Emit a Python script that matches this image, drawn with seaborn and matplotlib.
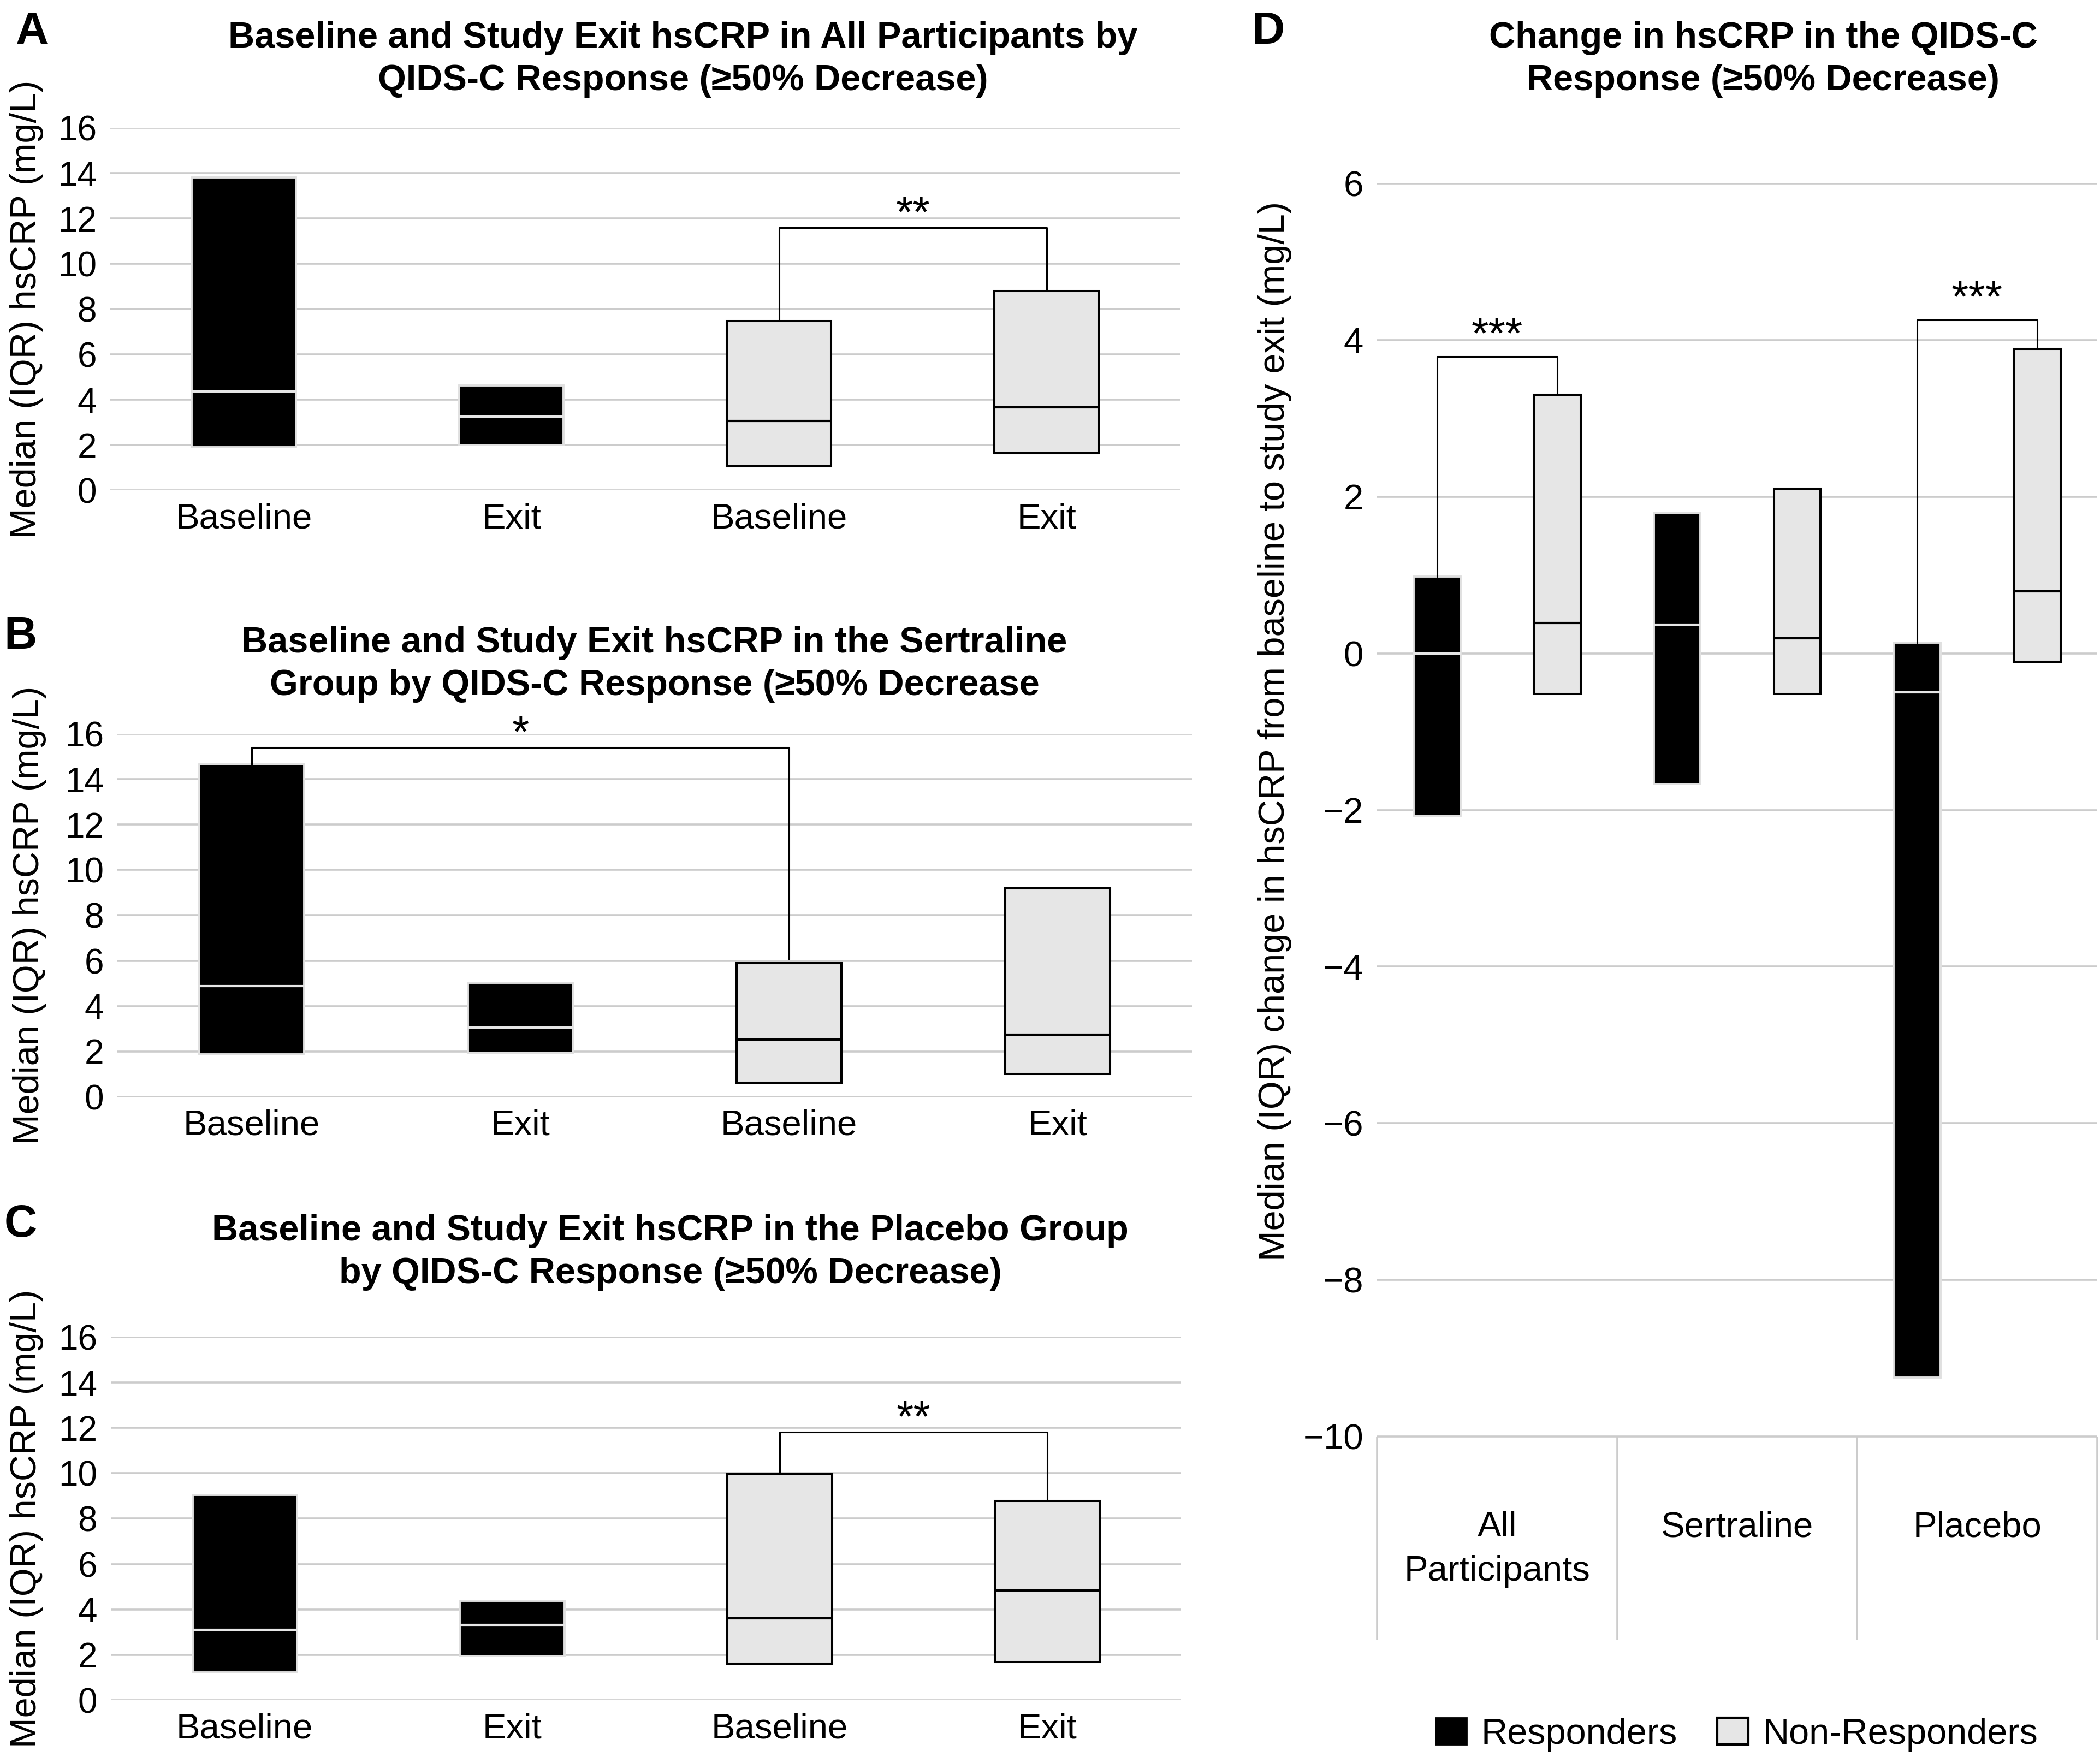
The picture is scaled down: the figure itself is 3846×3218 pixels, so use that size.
import numpy as np
import pandas as pd
import matplotlib
matplotlib.use("Agg")
import matplotlib.pyplot as plt
import seaborn as sns
from matplotlib.patches import Patch

# ---- data ----
# panels A-C, bar order: responders baseline/exit, non-responders baseline/exit
time_labels = ["Baseline", "Exit", "Baseline", "Exit"]
bar_keys = ["R_base", "R_exit", "NR_base", "NR_exit"]
bar_group = ["Responders", "Responders", "Non-Responders", "Non-Responders"]

all_q1 = [1.90, 2.00, 1.05, 1.65]
all_med = [4.37, 3.25, 3.05, 3.67]
all_q3 = [13.80, 4.63, 7.47, 8.80]

sert_q1 = [1.88, 1.96, 0.62, 1.00]
sert_med = [4.89, 3.05, 2.53, 2.74]
sert_q3 = [14.65, 5.03, 5.90, 9.18]

plac_q1 = [1.22, 1.94, 1.62, 1.69]
plac_med = [3.10, 3.32, 3.60, 4.83]
plac_q3 = [9.04, 4.38, 9.98, 8.77]

# significance brackets: left bar, right bar, height, left leg end, right leg end, label
bracket_all = (2, 3, 11.59, 7.47, 8.80, "**")
bracket_sert = (0, 2, 15.41, 14.65, 6.07, "*")
bracket_plac = (2, 3, 11.82, 10.05, 8.77, "**")

# panel D: change from baseline to exit
change_groups = ["All\nParticipants", "Sertraline", "Placebo"]
resp_q1 = [-2.07, -1.67, -9.25]
resp_med = [0.00, 0.37, -0.50]
resp_q3 = [0.98, 1.79, 0.14]
nonresp_q1 = [-0.52, -0.52, -0.11]
nonresp_med = [0.39, 0.19, 0.79]
nonresp_q3 = [3.30, 2.10, 3.89]

# group index, height, responder leg end, non-responder leg end, label
change_brackets = [(0, 3.79, 0.98, 3.30, "***"), (2, 4.26, 0.14, 3.89, "***")]

response_levels = ["Responders", "Non-Responders"]
GREY = "#e6e6e6"
GRID = "#cccccc"
BAR_W = 0.39

sns.set_theme(style="white")
plt.rcParams["font.family"] = ["Liberation Sans", "DejaVu Sans"]
plt.rcParams.update({"text.color": "black", "xtick.color": "black",
                     "ytick.color": "black", "axes.labelcolor": "black"})

fig = plt.figure(figsize=(3846 / 200, 3218 / 200), dpi=200)

bar_style = {
    "Responders": dict(color="black", edgecolor="#e0e0e0", linewidth=1.4, med_color="#e6e6e6"),
    "Non-Responders": dict(color=GREY, edgecolor="black", linewidth=1.45, med_color="black"),
}


def style_axis(ax, ticksize):
    for s in ax.spines.values():
        s.set_visible(False)
    ax.yaxis.grid(True, color=GRID, linewidth=1.3)
    ax.xaxis.grid(False)
    ax.set_axisbelow(True)
    ax.tick_params(axis="both", length=0)
    ax.tick_params(axis="y", labelsize=ticksize)


def draw_bracket(ax, x0, x1, h, leg0, leg1, label, star_offset=0):
    ax.plot([x0, x0, x1, x1], [leg0, h, h, leg1], color="black", lw=1.1,
            zorder=4, clip_on=False)
    ax.annotate(label, xy=((x0 + x1) / 2, h), xytext=(0, star_offset),
                textcoords="offset points", ha="center", va="baseline", fontsize=29)


def floating_bars(ax, df, order):
    # one seaborn call per response group: IQR bar from q1 to q3, median line on top
    df = df.copy()
    df["iqr"] = df["q3"] - df["q1"]
    for grp in response_levels:
        sub = df[df["group"] == grp]
        st = bar_style[grp]
        sns.barplot(data=sub, x="key", y="iqr", order=order,
                    bottom=sub["q1"].to_numpy(), color=st["color"],
                    edgecolor=st["edgecolor"], linewidth=st["linewidth"],
                    saturation=1, width=BAR_W, errorbar=None, ax=ax, zorder=3)
        pos = np.array([order.index(k) for k in sub["key"]])
        ax.hlines(sub["med"], pos - BAR_W / 2, pos + BAR_W / 2,
                  colors=st["med_color"], linewidth=1.5, zorder=4)


def time_panel(rect, q1, med, q3, bracket, ylabel_x):
    ax = fig.add_axes(rect)
    df = pd.DataFrame({"key": bar_keys, "group": bar_group,
                       "q1": q1, "med": med, "q3": q3})
    floating_bars(ax, df, bar_keys)
    b0, b1, h, l0, l1, lab = bracket
    draw_bracket(ax, b0, b1, h, l0, l1, lab, star_offset=0.5)
    style_axis(ax, 23)
    ax.set_ylim(0, 16)
    ax.set_yticks(np.arange(0, 17, 2))
    ax.set_xlim(-0.5, 3.5)
    ax.set_xticks(range(4))
    ax.set_xticklabels(time_labels, fontsize=23.5)
    ax.tick_params(axis="x", pad=8)
    ax.tick_params(axis="y", pad=9)
    ax.set_xlabel("")
    ax.set_ylabel("Median (IQR) hsCRP (mg/L)", fontsize=24)
    ax.yaxis.set_label_coords(ylabel_x, 0.5)
    return ax


time_panel([0.0525, 0.72094, 0.5096, 0.20634], all_q1, all_med, all_q3, bracket_all, -0.062)
time_panel([0.0559, 0.37570, 0.5117, 0.20665], sert_q1, sert_med, sert_q3, bracket_sert, -0.066)
time_panel([0.0528, 0.03232, 0.5096, 0.20665], plac_q1, plac_med, plac_q3, bracket_plac, -0.063)

# ---- panel D ----
# two slots per treatment group: responder slot then non-responder slot
axd = fig.add_axes([0.65575, 0.0665, 0.34295, 0.82909])
d_keys, d_group, d_q1, d_med, d_q3 = [], [], [], [], []
for i, g in enumerate(change_groups):
    d_keys += [g + "_R", g + "_NR"]
    d_group += response_levels
    d_q1 += [resp_q1[i], nonresp_q1[i]]
    d_med += [resp_med[i], nonresp_med[i]]
    d_q3 += [resp_q3[i], nonresp_q3[i]]
change_df = pd.DataFrame({"key": d_keys, "group": d_group,
                          "q1": d_q1, "med": d_med, "q3": d_q3})
floating_bars(axd, change_df, d_keys)

for g, h, l0, l1, lab in change_brackets:
    draw_bracket(axd, 2 * g, 2 * g + 1, h, l0, l1, lab, star_offset=5.5)

style_axis(axd, 23.5)
n_slots = len(d_keys)
axd.set_xlim(-0.5, n_slots - 0.5)
axd.set_ylim(-12.6, 6)
axd.set_yticks(np.arange(-10, 7, 2))
axd.tick_params(axis="y", pad=9)
axd.set_xticks([])
axd.set_xlabel("")
axd.vlines(np.arange(-0.5, n_slots, 2.0), -12.6, -10, color=GRID, linewidth=1.3,
           clip_on=False, zorder=1)
for i, lab in enumerate(change_groups):
    axd.text(2 * i + 0.5, -10.95, lab, ha="center", va="top", fontsize=23.5,
             linespacing=1.45)
axd.set_ylabel("Median (IQR) change in hsCRP from baseline to study exit (mg/L)",
               fontsize=24)
axd.yaxis.set_label_coords(-0.118, 0.624)

# ---- titles and panel letters ----
# y is the baseline of the second title line
fig.text(0.3253, 0.9487, "Baseline and Study Exit hsCRP in All Participants by\n"
         "QIDS-C Response (\u226550% Decrease)", ha="center", va="baseline",
         fontsize=24, fontweight="bold", linespacing=1.33)
fig.text(0.3116, 0.6044, "Baseline and Study Exit hsCRP in the Sertraline\n"
         "Group by QIDS-C Response (\u226550% Decrease", ha="center", va="baseline",
         fontsize=24, fontweight="bold", linespacing=1.33)
fig.text(0.3192, 0.2697, "Baseline and Study Exit hsCRP in the Placebo Group\n"
         "by QIDS-C Response (\u226550% Decrease)", ha="center", va="baseline",
         fontsize=24, fontweight="bold", linespacing=1.33)
fig.text(0.8397, 0.9487, "Change in hsCRP in the QIDS-C\n"
         "Response (\u226550% Decrease)", ha="center", va="baseline",
         fontsize=24, fontweight="bold", linespacing=1.33)

for letter, x, y in [("A", 0.0075, 0.9751), ("B", 0.002, 0.6308),
                     ("C", 0.002, 0.2961), ("D", 0.596, 0.9751)]:
    fig.text(x, y, letter, ha="left", va="baseline", fontsize=30, fontweight="bold")

handles = [Patch(facecolor="black", edgecolor="black"),
           Patch(facecolor=GREY, edgecolor="black", linewidth=1.5)]
fig.legend(handles, response_levels, loc="center", bbox_to_anchor=(0.827, 0.0128),
           ncol=2, frameon=False, fontsize=24, handlelength=0.85, handleheight=0.75,
           handletextpad=0.4, columnspacing=1.1)

fig.savefig("out.png", dpi=200)
